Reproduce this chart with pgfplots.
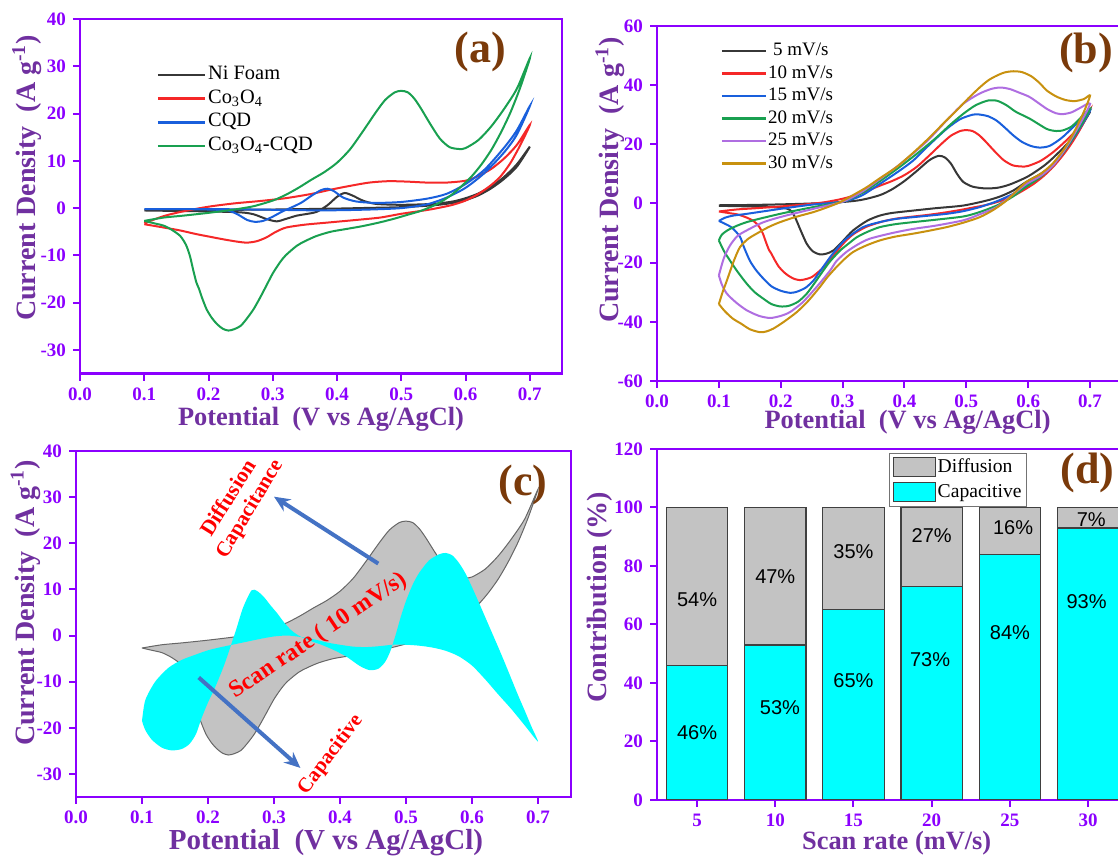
\documentclass[border=0pt]{standalone}
\usepackage{fontspec}
\setmainfont{Liberation Serif}
\newfontfamily\arialfont{Liberation Sans}
\usepackage{pgfplots}
\usepackage{pgfplotstable}
\pgfplotsset{compat=1.18}
\usetikzlibrary{arrows.meta}
\definecolor{axv}{RGB}{139,0,255}
\definecolor{labp}{RGB}{112,48,160}
\definecolor{brn}{RGB}{122,58,10}
\definecolor{cblack}{RGB}{55,55,55}
\definecolor{cred}{RGB}{245,40,40}
\definecolor{cblue}{RGB}{25,95,220}
\definecolor{cgreen}{RGB}{25,160,80}
\definecolor{cviolet}{RGB}{175,110,225}
\definecolor{cgold}{RGB}{200,145,15}
\definecolor{arrowblue}{RGB}{68,114,196}
\definecolor{cyanf}{RGB}{0,255,255}
\definecolor{grayf}{RGB}{195,195,195}

% Co3O4-CQD at 10 mV/s (panel a green, panel b red, panel c gray)
\pgfplotstableread{
V I
0.100 -2.7
0.130 -2.0
0.160 -1.6
0.200 -1.0
0.240 -0.3
0.270 0.4
0.300 1.6
0.320 2.8
0.340 4.3
0.360 6.0
0.380 7.6
0.400 9.6
0.420 12.4
0.440 16.2
0.460 20.2
0.475 22.9
0.490 24.5
0.500 24.8
0.510 24.5
0.520 23.2
0.530 21.2
0.545 17.8
0.560 14.7
0.575 12.9
0.590 12.5
0.600 12.7
0.620 14.4
0.640 17.3
0.660 21.0
0.680 25.3
0.700 31.7
0.685 25.5
0.670 20.3
0.655 16.0
0.640 12.3
0.625 9.3
0.610 6.8
0.595 4.8
0.580 3.0
0.565 1.6
0.550 0.5
0.530 -0.6
0.510 -1.4
0.490 -2.2
0.467 -3.0
0.440 -3.8
0.415 -4.4
0.390 -5.0
0.368 -5.9
0.350 -7.0
0.337 -8.0
0.320 -10.0
0.311 -11.5
0.300 -13.8
0.290 -16.4
0.280 -19.0
0.270 -21.4
0.260 -23.3
0.250 -24.9
0.240 -25.6
0.231 -25.9
0.222 -25.5
0.213 -24.5
0.205 -23.2
0.197 -21.4
0.190 -19.0
0.185 -17.0
0.181 -15.7
0.176 -13.0
0.171 -10.1
0.165 -7.8
0.156 -5.9
0.143 -4.6
0.130 -3.7
0.115 -3.2
0.100 -2.7
}\cvten

\tikzset{pct/.style={font=\arialfont\fontsize{10}{11}\selectfont, text=black}}
\pgfplotsset{
 panel/.style={
  scale only axis, anchor=south west,
  axis line style={axv, line width=1.2pt},
  tick style={axv, line width=1pt},
  major tick length=3.5pt,
  tick align=outside,
  xtick pos=left, ytick pos=left,
  tick label style={font=\fontsize{9.5}{10}\selectfont\bfseries, text=axv},
  /pgf/number format/assume math mode=true,
  label style={text=labp},
  xlabel style={font=\fontsize{13.2}{15}\selectfont\bfseries},
  ylabel style={font=\fontsize{14}{16}\selectfont\bfseries},
  enlargelimits=false,
 },
 cvx/.style={xmin=0, xmax=0.75, xtick={0,0.1,0.2,0.3,0.4,0.5,0.6,0.7},
   xticklabel style={/pgf/number format/.cd, fixed, fixed zerofill, precision=1},
   xlabel={Potential\ \ (V vs Ag/AgCl)},
   ylabel={Current Density\ \ (A g\textsuperscript{-1})}},
 cv/.style={line width=1pt, smooth, tension=0.45, mark=none},
}

\begin{document}
\begin{tikzpicture}
\useasboundingbox (0,0) rectangle (559pt,430.5pt);

% ---------------- (a) ----------------
\begin{axis}[panel, cvx, clip mode=individual, at={(40pt,243.7pt)}, width=241pt, height=177.3pt,
  ymin=-35, ymax=40, ytick={-30,-20,-10,0,10,20,30,40},
  xlabel style={at={(axis description cs:0.5,-0.13)}, anchor=center},
  ylabel style={at={(axis description cs:-0.11,0.552)}, anchor=center},
  legend style={draw=none, fill=none, at={(rel axis cs:0.158,0.876)}, anchor=north west,
    font=\fontsize{10.2}{12}\selectfont, inner sep=0pt, row sep=0pt,
    nodes={inner sep=1pt, text height=7.2pt, text depth=2.6pt}},
  legend cell align=left,
  legend image code/.code={\draw[#1, line width=1.3pt] (0pt,0pt) -- (23.5pt,0pt);},
]
\addplot[cv, cblack] coordinates {(0.1,-0.4) (0.15,-0.4) (0.2,-0.4) (0.25,-0.35) (0.3,-0.3) (0.35,-0.2) (0.4,-0.1) (0.45,0.05) (0.5,0.2) (0.55,0.6) (0.58,1.1) (0.6,1.7) (0.62,2.7) (0.64,4.2) (0.66,6.2) (0.68,8.8) (0.7,13.0)
 (0.68,9.3) (0.66,6.6) (0.64,4.6) (0.62,3.1) (0.6,2.1) (0.58,1.4) (0.55,0.9) (0.5,0.7) (0.46,0.9) (0.44,1.6) (0.425,2.6) (0.412,3.2) (0.4,2.4) (0.385,0.6) (0.368,-0.8) (0.35,-1.3) (0.337,-1.6) (0.32,-2.3) (0.306,-2.8) (0.29,-2.3) (0.27,-1.3) (0.25,-0.9) (0.2,-0.7) (0.15,-0.6) (0.1,-0.5)};
\addlegendentry{Ni Foam}
\addplot[cv, cred] coordinates {(0.1,-3.2) (0.13,-1.7) (0.16,-0.7) (0.2,0.3) (0.24,1.0) (0.28,1.5) (0.32,2.1) (0.36,3.0) (0.39,3.9) (0.42,4.7) (0.45,5.4) (0.48,5.7) (0.51,5.6) (0.54,5.4) (0.57,5.4) (0.6,5.8) (0.62,6.8) (0.64,8.3) (0.66,10.5) (0.68,13.4) (0.7,17.6)
 (0.685,13.3) (0.67,9.6) (0.655,6.8) (0.64,4.9) (0.62,3.0) (0.6,1.6) (0.58,0.7) (0.56,0.1) (0.54,-0.4) (0.5,-1.2) (0.467,-2.0) (0.43,-2.5) (0.39,-3.0) (0.35,-3.5) (0.321,-4.1) (0.305,-5.0) (0.29,-6.2) (0.275,-7.0) (0.26,-7.3) (0.245,-7.1) (0.223,-6.6) (0.2,-6.0) (0.181,-5.5) (0.155,-4.7) (0.13,-4.1) (0.1,-3.4)};
\addlegendentry{Co\textsubscript{3}O\textsubscript{4}}
\addplot[cv, cblue] coordinates {(0.1,-0.2) (0.2,-0.2) (0.3,-0.35) (0.35,-0.45) (0.4,-0.45) (0.45,-0.3) (0.5,0.0) (0.54,0.8) (0.57,2.2) (0.6,4.3) (0.63,7.5) (0.66,11.8) (0.68,15.6) (0.7,21.6)
 (0.68,16.5) (0.66,12.8) (0.63,8.2) (0.6,5.1) (0.57,3.0) (0.54,2.0) (0.5,1.3) (0.46,1.1) (0.43,1.4) (0.41,2.2) (0.395,3.6) (0.385,4.1) (0.375,3.8) (0.36,2.6) (0.345,1.2) (0.33,0.2) (0.315,-0.7) (0.3,-1.8) (0.285,-2.7) (0.272,-2.9) (0.26,-2.5) (0.245,-1.3) (0.23,-0.5) (0.2,-0.3) (0.15,-0.2) (0.1,-0.2)};
\addlegendentry{CQD}
\addplot[cv, cgreen] table[x=V,y=I] {\cvten};
\addlegendentry{Co\textsubscript{3}O\textsubscript{4}-CQD}
\node[font=\fontsize{22}{24}\selectfont\bfseries, text=brn] at (rel axis cs:0.83,0.907) {(a)};
\end{axis}

% ---------------- (b) ----------------
\begin{axis}[panel, cvx, clip mode=individual, at={(328.5pt,240pt)}, width=232pt, height=177.5pt,
  ymin=-60, ymax=60, ytick={-60,-40,-20,0,20,40,60},
  xlabel style={at={(axis description cs:0.54,-0.115)}, anchor=center},
  ylabel style={at={(axis description cs:-0.101,0.566)}, anchor=center},
  legend style={draw=none, fill=none, at={(rel axis cs:0.136,0.959)}, anchor=north west,
    font=\fontsize{9.5}{11}\selectfont, inner sep=0pt, row sep=1.25pt,
    nodes={inner sep=0.5pt, text height=7pt, text depth=2pt}},
  legend cell align=left,
  legend image code/.code={\draw[#1, line width=1.3pt] (0pt,0pt) -- (22pt,0pt);},
]
\addplot[cv, cblack] coordinates {(0.1,-0.6) (0.15,-0.5) (0.2,-0.3) (0.25,0.0) (0.3,0.5) (0.33,1.2) (0.36,2.8) (0.38,4.8) (0.4,7.6) (0.42,11.0) (0.44,14.6) (0.455,16.1) (0.465,15.6) (0.475,13.5) (0.485,10.0) (0.495,7.3) (0.51,5.7) (0.53,5.1) (0.55,5.3) (0.57,6.4) (0.6,9.2) (0.63,13.5) (0.66,19.5) (0.68,24.5) (0.7,31.0)
 (0.68,24.0) (0.66,18.0) (0.64,13.0) (0.62,10.0) (0.597,7.3) (0.576,4.4) (0.555,2.4) (0.533,1.0) (0.495,-0.7) (0.45,-1.6) (0.414,-2.4) (0.38,-3.2) (0.36,-4.1) (0.34,-5.8) (0.317,-9.1) (0.3,-12.8) (0.285,-15.9) (0.273,-17.0) (0.263,-17.2) (0.252,-16.2) (0.242,-13.6) (0.232,-9.0) (0.223,-4.6) (0.215,-2.2) (0.2,-1.4) (0.15,-1.0) (0.1,-0.8)};
\addlegendentry{\hspace{2.5pt}5 mV/s}
\addplot[cv, cred] table[x=V,y=I] {\cvten};
\addlegendentry{10 mV/s}
\addplot[cv, cblue] coordinates {(0.1,-5.9) (0.11,-4.8) (0.123,-4.1) (0.145,-3.5) (0.2,-1.8) (0.25,-0.4) (0.3,0.6) (0.33,2.6) (0.36,6.6) (0.39,10.8) (0.414,14.5) (0.44,19.8) (0.468,25.2) (0.49,28.5) (0.51,30.0) (0.52,30.1) (0.535,29.5) (0.549,28.0) (0.563,25.5) (0.576,23.0) (0.59,20.8) (0.605,19.4) (0.619,18.9) (0.635,19.5) (0.656,22.5) (0.683,28.0) (0.7,31.4)
 (0.68,24.3) (0.66,18.2) (0.64,13.0) (0.62,9.6) (0.603,7.2) (0.59,5.3) (0.576,3.3) (0.55,0.8) (0.522,-1.2) (0.495,-2.6) (0.468,-3.5) (0.43,-4.3) (0.387,-5.2) (0.36,-6.3) (0.333,-8.0) (0.306,-11.9) (0.29,-15.5) (0.28,-18.1) (0.265,-22.5) (0.253,-26.0) (0.24,-28.5) (0.225,-29.9) (0.215,-30.2) (0.2,-29.5) (0.185,-28.0) (0.172,-25.4) (0.16,-22.5) (0.15,-19.3) (0.14,-14.5) (0.134,-11.2) (0.12,-8.0) (0.1,-5.9)};
\addlegendentry{15 mV/s}
\addplot[cv, cgreen] coordinates {(0.1,-12.5) (0.105,-10.5) (0.118,-8.6) (0.145,-6.3) (0.199,-3.5) (0.253,-1.2) (0.3,0.6) (0.33,3.4) (0.36,7.5) (0.39,12.0) (0.42,16.8) (0.45,22.0) (0.475,26.8) (0.495,30.3) (0.515,33.2) (0.535,34.8) (0.55,34.7) (0.565,33.2) (0.58,31.0) (0.603,28.6) (0.63,25.2) (0.645,24.5) (0.656,24.7) (0.67,26.0) (0.683,28.6) (0.7,32.0)
 (0.68,24.6) (0.66,18.2) (0.64,12.8) (0.62,9.0) (0.603,6.5) (0.592,5.0) (0.575,2.3) (0.549,-0.7) (0.52,-3.0) (0.495,-4.4) (0.45,-5.5) (0.414,-6.3) (0.385,-7.0) (0.36,-8.0) (0.34,-9.6) (0.323,-11.4) (0.31,-13.5) (0.296,-15.9) (0.28,-19.5) (0.269,-22.6) (0.255,-26.8) (0.242,-30.5) (0.228,-33.2) (0.213,-34.6) (0.199,-34.8) (0.185,-34.0) (0.172,-32.2) (0.158,-30.0) (0.145,-27.1) (0.13,-23.0) (0.118,-19.3) (0.108,-16.0) (0.1,-12.5)};
\addlegendentry{20 mV/s}
\addplot[cv, cviolet] coordinates {(0.1,-24.3) (0.108,-18.5) (0.118,-14.2) (0.13,-11.0) (0.145,-9.1) (0.17,-6.5) (0.199,-4.6) (0.253,-1.8) (0.3,0.6) (0.33,3.8) (0.36,8.2) (0.39,12.8) (0.42,18.0) (0.441,22.0) (0.47,28.5) (0.495,33.7) (0.52,37.0) (0.54,38.7) (0.555,39.2) (0.57,38.7) (0.585,37.5) (0.603,35.9) (0.63,32.0) (0.645,30.5) (0.656,30.2) (0.67,30.8) (0.683,32.2) (0.7,33.7)
 (0.68,25.5) (0.66,18.5) (0.64,12.8) (0.62,9.3) (0.597,6.6) (0.575,3.0) (0.549,-1.2) (0.52,-3.8) (0.495,-5.7) (0.45,-7.5) (0.414,-8.6) (0.38,-10.0) (0.344,-11.9) (0.325,-13.8) (0.306,-16.4) (0.29,-19.5) (0.28,-22.6) (0.265,-26.5) (0.253,-29.4) (0.235,-33.5) (0.215,-36.7) (0.2,-38.0) (0.183,-38.7) (0.165,-38.0) (0.145,-36.1) (0.128,-33.5) (0.113,-30.5) (0.105,-27.5) (0.1,-24.3)};
\addlegendentry{25 mV/s}
\addplot[cv, cgold] coordinates {(0.1,-34.0) (0.106,-30.0) (0.113,-26.0) (0.124,-19.5) (0.134,-14.8) (0.147,-12.0) (0.161,-10.2) (0.18,-8.0) (0.199,-6.3) (0.225,-4.5) (0.253,-2.9) (0.275,-1.3) (0.296,0.45) (0.32,3.2) (0.339,5.5) (0.36,8.5) (0.387,12.3) (0.415,17.3) (0.441,22.4) (0.465,27.5) (0.484,31.4) (0.503,35.5) (0.522,39.3) (0.536,41.7) (0.549,43.2) (0.562,44.3) (0.576,44.7) (0.59,44.4) (0.605,43.0) (0.618,40.8) (0.63,38.2) (0.645,36.2) (0.66,35.0) (0.675,34.6) (0.69,35.3) (0.7,36.5)
 (0.69,31.0) (0.675,24.5) (0.66,19.0) (0.64,13.6) (0.62,10.0) (0.597,7.3) (0.58,4.0) (0.565,1.0) (0.545,-2.0) (0.522,-4.6) (0.495,-6.5) (0.468,-8.0) (0.44,-9.2) (0.414,-10.2) (0.385,-11.2) (0.36,-12.5) (0.337,-14.3) (0.317,-16.4) (0.303,-18.8) (0.29,-21.5) (0.275,-25.0) (0.263,-28.3) (0.245,-32.8) (0.226,-36.7) (0.205,-40.0) (0.188,-42.3) (0.176,-43.3) (0.166,-43.5) (0.15,-42.5) (0.135,-40.5) (0.123,-39.0) (0.11,-36.5) (0.1,-34.0)};
\addlegendentry{30 mV/s}
\node[font=\fontsize{22}{24}\selectfont\bfseries, text=brn] at (rel axis cs:0.925,0.924) {(b)};
\end{axis}

% ---------------- (c) ----------------
\begin{axis}[panel, cvx, clip mode=individual, at={(38pt,32pt)}, width=247.5pt, height=173pt,
  ymin=-35, ymax=40, ytick={-30,-20,-10,0,10,20,30,40},
  xlabel style={at={(axis description cs:0.505,-0.133)}, anchor=center, font=\fontsize{14.5}{16}\selectfont\bfseries},
  ylabel style={at={(axis description cs:-0.102,0.561)}, anchor=center},
]
\addplot[fill=grayf, draw=black!60, line width=0.5pt, smooth, tension=0.45] table[x=V,y=I] {\cvten};
\addplot[fill=cyanf, draw=none, smooth, tension=0.45] coordinates {(0.1,-18.5) (0.105,-20.5) (0.115,-22.6) (0.13,-24.3) (0.145,-24.9) (0.16,-24.6) (0.172,-23.5) (0.182,-21.3) (0.19,-18.0) (0.2,-14.5) (0.21,-11.5) (0.225,-6.2) (0.242,1.0) (0.253,6.0) (0.266,9.8) (0.275,9.6) (0.285,8.3) (0.295,6.5) (0.305,4.8) (0.315,2.9) (0.325,1.3) (0.335,0.2) (0.35,-0.9) (0.37,-1.9) (0.39,-3.1) (0.41,-4.6) (0.43,-6.6) (0.445,-7.5) (0.458,-7.2) (0.468,-5.8) (0.476,-3.5) (0.484,0.0) (0.492,4.0) (0.5,7.5) (0.51,11.0) (0.52,13.6) (0.535,16.3) (0.55,17.6) (0.56,17.9) (0.57,17.4) (0.58,15.8) (0.59,13.5) (0.6,10.5) (0.61,7.3) (0.62,4.0) (0.63,0.7) (0.64,-2.6) (0.65,-6.0) (0.66,-9.5) (0.67,-13.0) (0.68,-16.3) (0.69,-19.7) (0.7,-23.0)
 (0.68,-19.5) (0.66,-16.0) (0.64,-12.8) (0.62,-9.5) (0.6,-6.5) (0.58,-4.5) (0.56,-3.3) (0.54,-2.6) (0.52,-2.2) (0.5,-2.0) (0.48,-2.0) (0.46,-2.3) (0.44,-2.5) (0.42,-2.4) (0.4,-2.0) (0.38,-1.5) (0.36,-0.8) (0.34,-0.3) (0.32,0.0) (0.3,-0.2) (0.28,-0.7) (0.26,-1.3) (0.24,-1.9) (0.22,-2.5) (0.2,-3.2) (0.18,-4.2) (0.16,-5.3) (0.14,-7.0) (0.12,-10.0) (0.105,-14.0) (0.1,-18.5)};
\draw[arrowblue, line width=2pt, -{Stealth[length=8pt,width=7pt]}] (axis cs:0.458,15.6) -- (axis cs:0.3,30.1);
\draw[arrowblue, line width=2pt, -{Stealth[length=8pt,width=7pt]}] (axis cs:0.186,-9.1) -- (axis cs:0.34,-28.7);
\node[font=\fontsize{10.8}{12}\selectfont\bfseries, text=red, rotate=58, inner sep=0pt] at (axis cs:0.23,29.9) {Diffusion};
\node[font=\fontsize{10.5}{12}\selectfont\bfseries, text=red, rotate=59, inner sep=0pt] at (axis cs:0.264,27.3) {Capacitance};
\node[font=\fontsize{12}{14}\selectfont\bfseries, text=red, rotate=34, inner sep=0pt] at (axis cs:0.368,-0.1) {Scan rate ( 10 mV/s)};
\node[font=\fontsize{10.3}{12}\selectfont\bfseries, text=red, rotate=53, inner sep=0pt] at (axis cs:0.386,-25.8) {Capacitive};
\node[font=\fontsize{22}{24}\selectfont\bfseries, text=brn] at (rel axis cs:0.903,0.902) {(c)};
\end{axis}

% ---------------- (d) ----------------
\begin{axis}[panel, at={(328.5pt,30.5pt)}, width=235.9pt, height=175.5pt,
  xmin=2.44, xmax=32.6, ymin=0, ymax=120,
  xtick={5,10,15,20,25,30}, ytick={0,20,40,60,80,100,120},
  ybar stacked, bar width=3.93,
  xlabel={Scan rate (mV/s)}, ylabel={Contribution (\%)},
  xlabel style={at={(axis description cs:0.508,-0.1225)}, anchor=center},
  ylabel style={at={(axis description cs:-0.121,0.578)}, anchor=center},
  reverse legend,
  legend style={draw=black!55, fill=white, at={(rel axis cs:0.492,0.989)}, anchor=north west,
    font=\fontsize{9.8}{11}\selectfont, inner sep=1.5pt, row sep=1.5pt,
    nodes={inner sep=1pt, text height=7pt, text depth=2pt}},
  legend cell align=left,
  legend image code/.code={\draw[#1] (0pt,-4.75pt) rectangle (21pt,4.75pt);},
]
\addplot[fill=cyanf, draw=black!75, line width=0.6pt]
  coordinates {(5,46) (10,53) (15,65) (20,73) (25,84) (30,93)};
\addlegendentry{Capacitive}
\addplot[fill=grayf, draw=black!75, line width=0.6pt]
  coordinates {(5,54) (10,47) (15,35) (20,27) (25,16) (30,7)};
\addlegendentry{Diffusion}
\node[font=\fontsize{22}{24}\selectfont\bfseries, text=brn] at (rel axis cs:0.912,0.932) {(d)};
\end{axis}
% overlay with the same geometry for the percentage labels
\begin{axis}[at={(328.5pt,30.5pt)}, anchor=south west, scale only axis,
  width=235.9pt, height=175.5pt, xmin=2.44, xmax=32.6, ymin=0, ymax=120, hide axis]
\node[pct] at (axis cs:5,68.6) {54\%};
\node[pct] at (axis cs:10,76.4) {47\%};
\node[pct] at (axis cs:15,85) {35\%};
\node[pct] at (axis cs:20,90.5) {27\%};
\node[pct] at (axis cs:25.2,93.2) {16\%};
\node[pct] at (axis cs:30.2,96) {7\%};
\node[pct] at (axis cs:5,23) {46\%};
\node[pct] at (axis cs:10.3,31.6) {53\%};
\node[pct] at (axis cs:15,40.7) {65\%};
\node[pct] at (axis cs:19.9,48.1) {73\%};
\node[pct] at (axis cs:25,57.2) {84\%};
\node[pct] at (axis cs:29.9,67.7) {93\%};
\end{axis}
\end{tikzpicture}
\end{document}
